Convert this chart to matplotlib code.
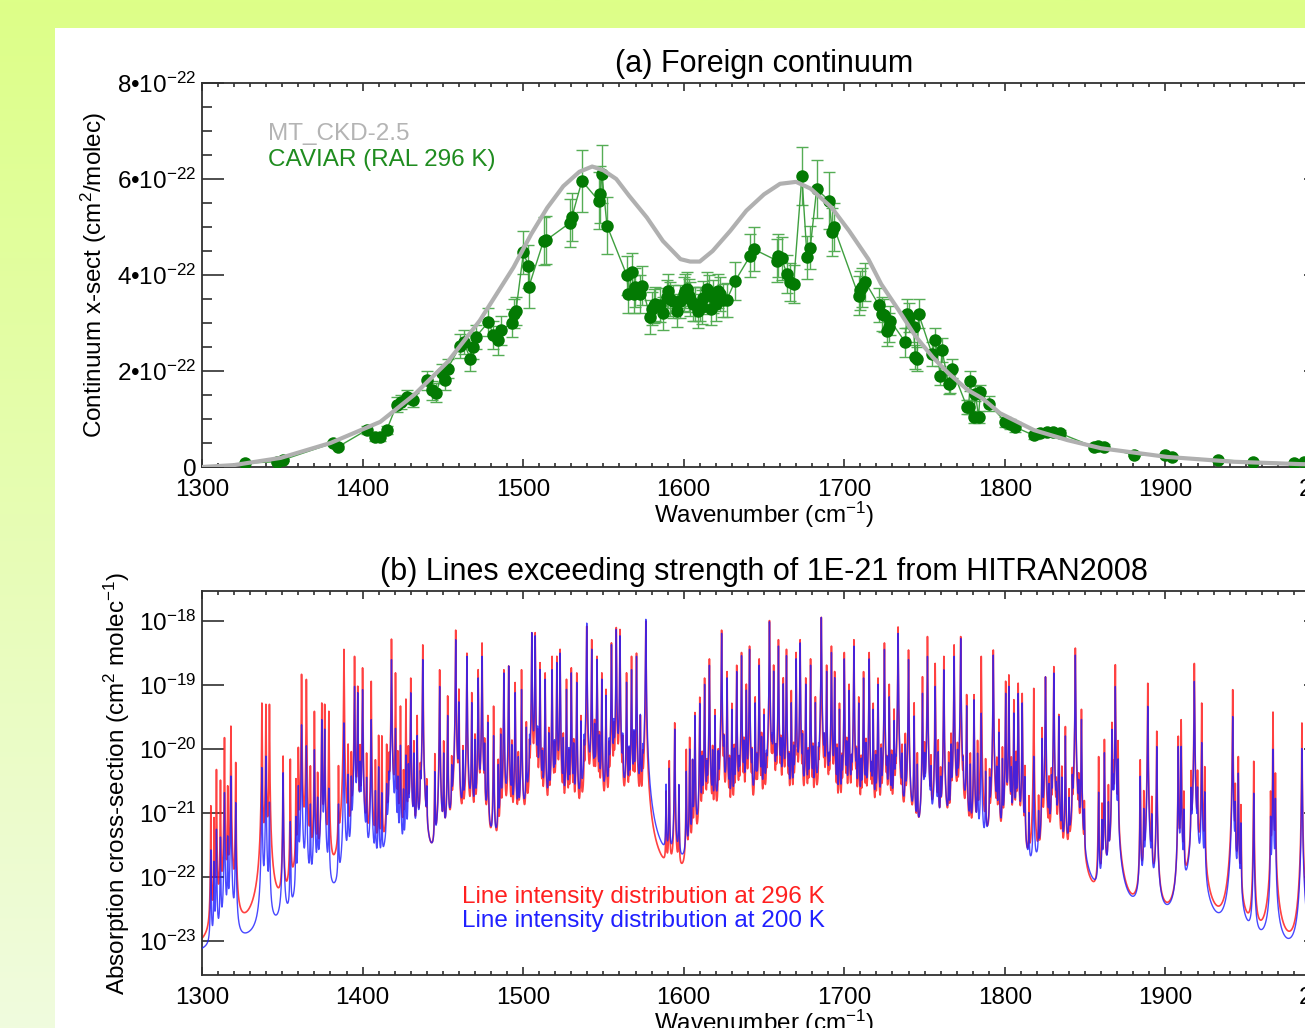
import numpy as np
import matplotlib
matplotlib.use('Agg')
import matplotlib.pyplot as plt
from matplotlib.ticker import MultipleLocator, FixedLocator, FuncFormatter, NullLocator
from matplotlib.patches import Rectangle

plt.rcParams['font.family'] = ['Liberation Sans', 'DejaVu Sans']
plt.rcParams['mathtext.fontset'] = 'custom'
plt.rcParams['mathtext.rm'] = 'Liberation Sans'
plt.rcParams['mathtext.it'] = 'Liberation Sans:italic'
plt.rcParams['mathtext.bf'] = 'Liberation Sans:bold'

# ---------------- data: panel (a) ----------------
# MT_CKD-2.5 foreign continuum (units of 1e-22 cm2/molec)
ckd_wn = [1300, 1320, 1349, 1380, 1411, 1432, 1453, 1473, 1494, 1505, 1515, 1525, 1535,
          1543, 1550, 1558, 1566, 1577, 1587, 1598, 1604, 1610, 1618, 1629, 1639, 1650,
          1660, 1670, 1679, 1692, 1703, 1715, 1723, 1734, 1744, 1755, 1765, 1777, 1786,
          1797, 1818, 1839, 1860, 1901, 1942, 1984, 2000]
ckd_val = [0.00, 0.04, 0.19, 0.50, 0.94, 1.50, 2.19, 3.05, 4.16, 4.85, 5.40, 5.85, 6.15,
           6.26, 6.18, 6.00, 5.65, 5.20, 4.71, 4.33, 4.28, 4.28, 4.50, 4.92, 5.34, 5.68,
           5.90, 5.94, 5.80, 5.41, 4.92, 4.33, 3.81, 3.26, 2.74, 2.29, 1.95, 1.60, 1.43,
           1.12, 0.77, 0.56, 0.39, 0.21, 0.11, 0.06, 0.05]

# CAVIAR (RAL 296 K) measurements (units of 1e-22 cm2/molec)
cav_wn = [1326.8, 1346.5, 1350.5, 1381.7, 1384.7, 1402.6, 1407.8, 1411.0, 1415.0, 1421.3,
          1424.0, 1427.5, 1431.6, 1440.0, 1443.0, 1446.0, 1449.3, 1451.4, 1453.0, 1460.7,
          1463.0, 1467.0, 1469.0, 1470.5, 1478.4, 1481.5, 1484.6, 1486.0, 1493.0, 1494.0,
          1495.5, 1500.2, 1503.3, 1503.6, 1512.7, 1514.5, 1529.3, 1530.3, 1536.6, 1547.0,
          1548.0, 1549.1, 1552.2, 1564.6, 1565.6, 1567.7, 1568.8, 1569.8, 1573.0, 1574.0,
          1579.1, 1580.2, 1581.2, 1582.2, 1585.4, 1587.0, 1589.5, 1590.5, 1591.6, 1593.6,
          1595.8, 1597.8, 1600.0, 1600.9, 1602.0, 1603.0, 1604.0, 1606.0, 1607.2, 1609.0,
          1610.0, 1611.3, 1612.2, 1614.4, 1615.5, 1617.0, 1618.5, 1620.0, 1621.6, 1622.7,
          1624.7, 1626.8, 1632.1, 1641.4, 1643.5, 1658.0, 1659.0, 1661.0, 1664.2, 1666.2,
          1668.4, 1673.6, 1676.8, 1678.8, 1682.8, 1690.5, 1692.5, 1693.4, 1708.9, 1710.0,
          1711.0, 1713.0, 1721.4, 1723.4, 1724.6, 1726.7, 1727.7, 1728.7, 1738.0, 1739.0,
          1740.0, 1743.2, 1744.2, 1745.3, 1746.3, 1754.6, 1756.7, 1759.8, 1760.9, 1765.0,
          1766.0, 1767.1, 1776.4, 1777.4, 1778.5, 1780.6, 1781.7, 1783.6, 1784.7, 1789.9,
          1800.3, 1803.0, 1806.5, 1818.0, 1822.0, 1826.3, 1830.0, 1834.6, 1855.3, 1858.0,
          1861.5, 1880.3, 1900.0, 1904.0, 1932.8, 1954.6, 1980.0, 1986.3]
cav_val = [0.08, 0.11, 0.15, 0.50, 0.42, 0.77, 0.63, 0.62, 0.77, 1.30,
           1.35, 1.46, 1.39, 1.81, 1.60, 1.55, 1.95, 1.81, 2.05, 2.52,
           2.60, 2.26, 2.50, 2.71, 3.02, 2.75, 2.64, 2.85, 3.00, 3.19,
           3.25, 4.47, 4.18, 3.76, 4.71, 4.73, 5.09, 5.20, 5.96, 5.55,
           5.68, 6.10, 5.03, 3.99, 3.61, 4.06, 3.61, 3.74, 3.60, 3.78,
           3.12, 3.30, 3.36, 3.40, 3.38, 3.20, 3.55, 3.67, 3.50, 3.45,
           3.26, 3.45, 3.60, 3.67, 3.71, 3.57, 3.50, 3.39, 3.40, 3.25,
           3.39, 3.33, 3.53, 3.71, 3.65, 3.30, 3.55, 3.40, 3.67, 3.61,
           3.47, 3.48, 3.88, 4.40, 4.54, 4.30, 4.40, 4.35, 4.02, 3.85,
           3.81, 6.06, 4.37, 4.57, 5.79, 5.55, 4.90, 5.01, 3.57, 3.68,
           3.74, 3.86, 3.38, 3.19, 3.16, 2.83, 2.91, 3.05, 2.60, 3.19,
           3.12, 2.91, 2.29, 2.26, 3.19, 2.36, 2.64, 1.90, 2.43, 1.72,
           1.74, 2.05, 1.25, 1.25, 1.79, 1.04, 1.53, 1.04, 1.56, 1.32,
           0.94, 0.90, 0.83, 0.66, 0.70, 0.73, 0.72, 0.70, 0.42, 0.44,
           0.42, 0.25, 0.25, 0.21, 0.15, 0.11, 0.08, 0.11]
cav_err = [0.02, 0.02, 0.02, 0.05, 0.05, 0.08, 0.08, 0.08, 0.08, 0.15,
           0.15, 0.15, 0.15, 0.20, 0.20, 0.20, 0.20, 0.20, 0.20, 0.25,
           0.25, 0.25, 0.25, 0.25, 0.30, 0.30, 0.30, 0.30, 0.30, 0.30,
           0.30, 0.45, 0.45, 0.45, 0.50, 0.50, 0.50, 0.50, 0.65, 0.60,
           0.60, 0.60, 0.60, 0.40, 0.40, 0.40, 0.40, 0.40, 0.40, 0.40,
           0.35, 0.35, 0.35, 0.35, 0.35, 0.35, 0.35, 0.35, 0.35, 0.35,
           0.35, 0.35, 0.35, 0.35, 0.35, 0.35, 0.35, 0.35, 0.35, 0.35,
           0.35, 0.35, 0.35, 0.35, 0.35, 0.35, 0.35, 0.35, 0.35, 0.35,
           0.35, 0.35, 0.40, 0.45, 0.45, 0.45, 0.45, 0.45, 0.40, 0.40,
           0.40, 0.60, 0.45, 0.45, 0.60, 0.60, 0.50, 0.50, 0.40, 0.40,
           0.40, 0.40, 0.35, 0.35, 0.35, 0.30, 0.30, 0.30, 0.30, 0.30,
           0.30, 0.30, 0.25, 0.25, 0.30, 0.25, 0.25, 0.20, 0.25, 0.20,
           0.20, 0.20, 0.15, 0.15, 0.20, 0.12, 0.15, 0.12, 0.15, 0.15,
           0.10, 0.10, 0.10, 0.07, 0.07, 0.07, 0.07, 0.07, 0.05, 0.05,
           0.05, 0.03, 0.03, 0.03, 0.02, 0.02, 0.02, 0.02]

# ---------------- data: panel (b) ----------------
# strong lines: centres (cm-1) and log10 peak cross-section at 296 K / 200 K
line_wn = [1305.5, 1309.0, 1314.0, 1318.0, 1321.0, 1337.3, 1339.8, 1342.0, 1350.5, 1355.0,
           1362.0, 1365.0, 1370.0, 1374.6, 1376.4, 1379.0, 1388.4, 1391.0, 1395.0, 1397.0,
           1400.0, 1405.4, 1412.0, 1415.0, 1418.0, 1420.5, 1423.6, 1427.0, 1430.0, 1434.0,
           1437.5, 1440.0, 1448.0, 1453.0, 1458.0, 1460.0, 1465.0, 1468.0, 1472.0, 1474.4,
           1478.0, 1481.6, 1488.0, 1491.0, 1495.0, 1499.0, 1505.4, 1507.5, 1510.5, 1513.7,
           1518.0, 1521.0, 1523.0, 1527.0, 1530.0, 1533.4, 1539.6, 1542.7, 1546.0, 1549.0,
           1551.6, 1555.0, 1558.0, 1560.3, 1564.4, 1567.5, 1570.6, 1576.4, 1591.0, 1594.4,
           1601.6, 1603.7, 1607.0, 1610.0, 1613.0, 1616.0, 1619.5, 1623.6, 1627.0, 1630.0,
           1633.0, 1636.0, 1639.0, 1641.0, 1644.5, 1647.0, 1650.0, 1653.4, 1656.0, 1659.0,
           1662.0, 1664.0, 1667.0, 1670.0, 1672.5, 1676.0, 1679.0, 1682.0, 1685.7, 1689.0,
           1692.0, 1694.0, 1697.0, 1700.0, 1703.0, 1706.0, 1709.0, 1712.0, 1715.5, 1718.0,
           1721.0, 1725.0, 1728.0, 1731.0, 1733.5, 1740.0, 1743.5, 1748.7, 1751.8, 1756.6,
           1762.0, 1768.4, 1772.5, 1776.2, 1780.8, 1785.3, 1792.8, 1796.3, 1800.5, 1802.5,
           1805.6, 1808.3, 1810.8, 1818.0, 1823.2, 1825.3, 1830.5, 1833.6, 1837.7, 1843.9,
           1847.7, 1858.4, 1862.0, 1866.7, 1868.8, 1884.3, 1889.0, 1894.6, 1908.0, 1909.8,
           1918.0, 1922.6, 1941.9, 1945.4, 1955.0, 1967.0, 1985.0]
line_log296 = [-20.9, -20.33, -19.83, -19.65, -20.22, -19.29, -19.31, -19.31, -20.12, -20.17,
               -18.84, -18.92, -19.42, -19.29, -19.31, -19.42, -18.45, -19.96, -18.56, -19.03,
               -18.74, -18.95, -19.81, -19.96, -18.29, -18.82, -19.34, -19.23, -18.90, -19.49,
               -18.38, -20.59, -18.77, -19.18, -18.15, -19.08, -18.51, -19.13, -18.77, -18.35,
               -19.49, -19.34, -18.77, -18.71, -18.97, -18.77, -18.19, -18.19, -18.66, -18.82,
               -18.56, -18.56, -18.45, -18.92, -18.74, -18.82, -18.09, -18.30, -18.56, -18.82,
               -19.08, -18.35, -18.11, -18.14, -18.82, -18.56, -18.51, -18.01, -20.20, -19.60,
               -20.02, -19.83, -19.44, -19.20, -18.90, -18.60, -19.40, -18.15, -18.80, -19.30,
               -18.70, -18.50, -19.00, -18.40, -19.20, -18.60, -19.40, -18.00, -18.70, -18.30,
               -18.90, -18.45, -19.10, -18.50, -18.30, -18.90, -18.60, -19.20, -17.95, -18.70,
               -18.40, -18.80, -19.30, -18.50, -19.00, -18.30, -19.20, -18.80, -18.50, -19.30,
               -18.90, -18.35, -19.00, -19.40, -18.10, -18.46, -19.29, -18.88, -18.25, -18.67,
               -18.56, -18.38, -18.25, -19.16, -19.16, -18.56, -18.46, -19.55, -18.95, -18.85,
               -19.24, -18.98, -19.14, -19.06, -19.68, -18.88, -18.72, -19.47, -19.66, -18.43,
               -19.39, -20.13, -19.86, -19.60, -18.69, -20.18, -18.98, -19.73, -19.81, -19.55,
               -18.67, -19.29, -19.08, -20.13, -20.20, -19.43, -19.60]
line_log200 = [-21.6, -21.27, -20.69, -20.43, -20.85, -20.30, -20.12, -20.85, -20.38, -21.16,
               -19.63, -19.96, -20.02, -19.55, -19.70, -20.64, -19.60, -20.43, -19.03, -19.13,
               -19.08, -19.55, -20.74, -20.64, -18.61, -19.70, -19.96, -20.12, -19.13, -19.81,
               -18.61, -20.74, -19.03, -19.49, -18.30, -19.29, -18.56, -19.29, -18.90, -18.56,
               -19.60, -19.81, -18.82, -18.71, -19.13, -19.08, -18.19, -18.24, -18.77, -18.92,
               -18.77, -18.66, -18.51, -19.08, -18.82, -18.97, -18.04, -18.45, -18.61, -18.92,
               -19.18, -18.38, -18.14, -18.24, -18.97, -18.77, -18.56, -17.98, -20.33, -19.70,
               -20.38, -20.02, -19.49, -19.30, -19.00, -18.70, -19.50, -18.20, -18.90, -19.40,
               -18.80, -18.55, -19.10, -18.45, -19.30, -18.70, -19.50, -18.02, -18.80, -18.40,
               -19.00, -18.55, -19.30, -18.60, -18.35, -19.00, -18.70, -19.30, -17.95, -18.80,
               -18.50, -18.90, -19.40, -18.60, -19.10, -18.40, -19.30, -18.90, -18.60, -19.40,
               -19.00, -18.45, -19.20, -19.60, -18.20, -18.61, -19.50, -19.14, -18.56, -19.03,
               -18.77, -18.56, -18.28, -19.34, -19.24, -19.45, -18.54, -19.76, -19.14, -19.03,
               -19.45, -19.14, -19.29, -20.13, -19.86, -18.88, -18.82, -19.50, -19.81, -18.54,
               -19.55, -20.70, -20.07, -19.71, -19.03, -20.44, -19.34, -19.97, -19.97, -19.97,
               -18.95, -19.91, -19.50, -20.39, -20.70, -20.01, -20.00]

# weaker lines in between
weak_wn = [1307.5, 1311.5, 1316.0, 1358.5, 1360.0, 1367.5, 1372.0, 1385.0, 1393.0, 1398.5,
           1402.5, 1408.0, 1410.0, 1416.5, 1422.0, 1425.5, 1428.5, 1432.0, 1436.0, 1445.0,
           1450.5, 1455.5, 1462.5, 1470.0, 1476.0, 1484.5, 1486.0, 1493.0, 1497.0, 1502.0,
           1504.0, 1509.0, 1512.0, 1516.0, 1519.5, 1525.0, 1528.5, 1531.5, 1536.0, 1538.0,
           1544.5, 1547.5, 1553.5, 1556.5, 1562.0, 1566.0, 1569.0, 1573.0, 1574.5, 1589.0,
           1597.0, 1605.5, 1611.5, 1614.5, 1618.0, 1621.5, 1625.0, 1628.5, 1631.5, 1634.5,
           1637.5, 1642.5, 1645.5, 1648.5, 1651.5, 1655.0, 1657.5, 1660.5, 1665.5, 1668.5,
           1671.0, 1674.0, 1677.5, 1680.5, 1684.0, 1687.5, 1690.5, 1695.5, 1698.5, 1701.5,
           1704.5, 1707.5, 1710.5, 1713.5, 1717.0, 1719.5, 1723.0, 1726.5, 1729.5, 1732.0,
           1736.0, 1738.0, 1745.5, 1750.0, 1754.0, 1758.5, 1760.0, 1765.0, 1766.5, 1770.5,
           1774.0, 1778.5, 1783.0, 1788.0, 1790.5, 1795.0, 1798.5, 1804.0, 1807.0, 1812.5,
           1815.0, 1821.0, 1827.5, 1829.0, 1832.0, 1835.5, 1840.0, 1842.0, 1846.0, 1849.5,
           1860.5, 1864.5, 1867.5, 1870.5, 1886.5, 1891.5, 1911.5, 1916.0, 1920.0, 1924.5,
           1943.5, 1947.0, 1965.5, 1968.5]
weak_log296 = [-21.1, -20.5, -20.6, -20.5, -20.0, -20.3, -20.4, -20.3, -20.1, -20.0,
               -20.1, -20.2, -19.8, -20.2, -20.1, -20.4, -20.0, -19.9, -20.4, -20.1,
               -19.9, -20.2, -20.0, -19.8, -19.9, -20.2, -19.7, -19.9, -20.1, -19.6,
               -20.0, -19.8, -20.1, -19.7, -20.0, -19.8, -20.1, -19.9, -19.5, -20.0,
               -19.6, -19.8, -20.0, -19.7, -19.9, -20.1, -19.8, -19.5, -20.2, -20.7,
               -20.6, -20.2, -20.1, -20.3, -20.0, -20.1, -19.9, -20.2, -20.0, -20.3,
               -19.9, -20.1, -20.2, -19.8, -20.3, -20.0, -20.1, -19.9, -20.2, -20.0,
               -20.4, -19.8, -20.1, -20.0, -20.2, -19.9, -20.3, -20.0, -20.2, -19.9,
               -20.3, -20.1, -20.2, -19.9, -20.4, -20.1, -20.0, -20.3, -20.1, -20.5,
               -20.0, -19.8, -20.1, -20.0, -20.2, -19.9, -20.4, -20.1, -19.8, -20.0,
               -20.3, -20.1, -19.9, -20.2, -20.4, -20.2, -20.0, -20.2, -20.1, -20.3,
               -20.8, -20.8, -20.5, -20.4, -20.6, -20.3, -20.7, -20.4, -20.5, -20.9,
               -20.9, -20.6, -20.3, -19.9, -20.7, -20.8, -20.7, -20.4, -20.4, -20.3,
               -20.6, -20.9, -20.7, -20.4]
weak_log200 = [-21.8, -21.4, -21.4, -21.1, -20.6, -20.9, -20.8, -20.9, -20.5, -20.3,
               -20.5, -20.7, -20.3, -20.6, -20.5, -20.7, -20.3, -20.1, -20.6, -20.4,
               -20.1, -20.4, -20.1, -19.9, -20.0, -20.3, -19.8, -20.0, -20.2, -19.7,
               -20.0, -19.8, -20.2, -19.8, -20.0, -19.9, -20.1, -20.0, -19.6, -20.0,
               -19.7, -19.9, -20.0, -19.7, -19.9, -20.1, -19.8, -19.5, -20.2, -20.6,
               -20.6, -20.2, -20.2, -20.4, -20.1, -20.2, -20.0, -20.3, -20.1, -20.4,
               -20.0, -20.2, -20.3, -19.9, -20.4, -20.1, -20.2, -20.0, -20.3, -20.1,
               -20.5, -19.9, -20.2, -20.1, -20.3, -20.0, -20.4, -20.1, -20.3, -20.0,
               -20.4, -20.2, -20.3, -20.0, -20.5, -20.2, -20.1, -20.4, -20.2, -20.6,
               -20.2, -20.0, -20.3, -20.2, -20.4, -20.1, -20.6, -20.3, -20.0, -20.2,
               -20.5, -20.3, -20.1, -20.4, -20.6, -20.4, -20.2, -20.4, -20.3, -20.5,
               -21.1, -21.1, -20.7, -20.6, -20.8, -20.5, -20.9, -20.6, -20.7, -21.1,
               -21.2, -20.9, -20.6, -20.2, -21.0, -21.1, -21.0, -20.7, -20.7, -20.7,
               -20.9, -21.2, -21.1, -20.8]

# ---------------- figure ----------------
FW, FH = 1305, 1028
fig = plt.figure(figsize=(FW / 100, FH / 100), dpi=100)

# background: yellow-green gradient frame with white panel
bg = fig.add_axes([0, 0, 1, 1], zorder=-10)
t = np.linspace(0, 1, 256)[:, None, None]
c_top = np.array([221, 255, 136]) / 255.0
c_bot = np.array([240, 251, 222]) / 255.0
grad = c_top * (1 - t) + c_bot * t
bg.imshow(grad, aspect='auto', extent=[0, 1, 0, 1], origin='upper', interpolation='bilinear')
bg.add_patch(Rectangle((55 / FW, 0), 1, (FH - 28) / FH, color='white', lw=0))
bg.set_xlim(0, 1)
bg.set_ylim(0, 1)
bg.axis('off')

L = 202 / FW
W = 1124 / FW
H = 384 / FH
ax1 = fig.add_axes([L, (FH - 467) / FH, W, H])
ax2 = fig.add_axes([L, (FH - 975) / FH, W, H])

spine_col = '#303030'
TS = 17.5

def style_axes(ax, ymaj_len, ymin_len):
    for s in ax.spines.values():
        s.set_color(spine_col)
        s.set_linewidth(1.3)
    ax.set_facecolor('none')
    ax.tick_params(axis='both', which='both', direction='in', top=True, right=True,
                   colors=spine_col, labelcolor='black', labelsize=TS, width=1.2)
    ax.tick_params(axis='x', which='major', length=5.8, pad=9)
    ax.tick_params(axis='x', which='minor', length=3.2)
    ax.tick_params(axis='y', which='major', length=ymaj_len, pad=4)
    ax.tick_params(axis='y', which='minor', length=ymin_len)
    ax.set_xlim(1300, 2000)
    ax.xaxis.set_major_locator(MultipleLocator(100))
    ax.xaxis.set_minor_locator(MultipleLocator(10))
    ax.set_xlabel('Wavenumber (cm$^{-1}$)', fontsize=TS)
    ax.xaxis.set_label_coords(0.5, -0.085)
    ax.xaxis.label.set_va('top')

# ---- panel (a)
style_axes(ax1, 15.8, 7.2)
sc = 1e-22
cw = np.array(cav_wn)
cv = np.array(cav_val) * sc
ce = np.array(cav_err) * sc
order = np.argsort(cw)
ax1.errorbar(cw, cv, yerr=ce, fmt='none', ecolor='#55ad55', elinewidth=1.0,
             capsize=4.5, capthick=1.0, zorder=2)
ax1.plot(cw[order], cv[order], '-', color='#3f9f3f', lw=1.0, zorder=3)
ax1.plot(cw, cv, 'o', color='#037a03', ms=9, mec='none', zorder=4)
ax1.plot(ckd_wn, np.array(ckd_val) * sc, '-', color='#b0b0b0', lw=3.0, zorder=5,
         solid_capstyle='round', solid_joinstyle='round')
ax1.set_ylim(0, 8e-22)
ax1.yaxis.set_major_locator(MultipleLocator(2e-22))
ax1.yaxis.set_minor_locator(MultipleLocator(0.5e-22))

def fmt_a(v, pos):
    n = int(round(v / 1e-22))
    if n == 0:
        return '0'
    return '%d\u202210$^{\\mathrm{-22}}$' % n
ax1.yaxis.set_major_formatter(FuncFormatter(fmt_a))
ax1.set_title('(a) Foreign continuum', fontsize=22, pad=8)
ax1.set_ylabel('Continuum x-sect (cm$^2$/molec)', fontsize=TS)
ax1.yaxis.set_label_coords(-0.083, 0.5)
ax1.text(0.0587, 0.867, 'MT_CKD-2.5', transform=ax1.transAxes, color='#b4b4b4',
         fontsize=TS, va='center', ha='left')
ax1.text(0.0587, 0.799, 'CAVIAR (RAL 296 K)', transform=ax1.transAxes, color='#1f8c1f',
         fontsize=TS, va='center', ha='left')

# ---- panel (b)
style_axes(ax2, 15.8, 0)
grid = np.arange(1295.0, 2010.0, 0.01)
all_wn = list(line_wn) + list(weak_wn)
all_296 = list(line_log296) + list(weak_log296)
all_200 = list(line_log200) + list(weak_log200)

def spectrum(centres, logpeaks, hw):
    s = np.zeros_like(grid)
    for c, lp in zip(centres, logpeaks):
        s += 10.0 ** lp * hw * hw / ((grid - c) ** 2 + hw * hw)
    return s

s296 = spectrum(all_wn, all_296, 0.10)
s200 = spectrum(all_wn, all_200, 0.13)
ax2.plot(grid, s296, color='#ff2020', lw=1.2, alpha=0.85, zorder=2)
ax2.plot(grid, s200, color='#1a1aff', lw=1.0, alpha=0.8, zorder=3)
ax2.set_yscale('log')
ax2.set_ylim(2.9e-24, 2.9e-18)
ax2.yaxis.set_major_locator(FixedLocator([1e-23, 1e-22, 1e-21, 1e-20, 1e-19, 1e-18]))
ax2.yaxis.set_minor_locator(NullLocator())
ax2.yaxis.set_major_formatter(FuncFormatter(
    lambda v, p: '10$^{\\mathrm{%d}}$' % int(round(np.log10(v)))))
ax2.set_title('(b) Lines exceeding strength of 1E-21 from HITRAN2008', fontsize=22, pad=8)
ax2.set_ylabel('Absorption cross-section (cm$^2$ molec$^{-1}$)', fontsize=TS)
ax2.yaxis.set_label_coords(-0.062, 0.5)
ax2.text(0.2313, 0.203, 'Line intensity distribution at 296 K', transform=ax2.transAxes,
         color='#ff2020', fontsize=TS, va='center', ha='left')
ax2.text(0.2313, 0.1406, 'Line intensity distribution at 200 K', transform=ax2.transAxes,
         color='#2020ff', fontsize=TS, va='center', ha='left')

fig.savefig('out.png', dpi=100)
